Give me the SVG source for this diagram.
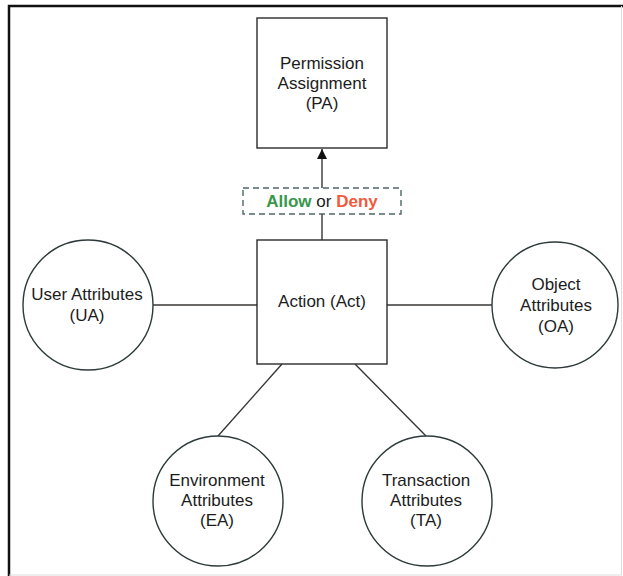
<svg xmlns="http://www.w3.org/2000/svg" width="623" height="576" viewBox="0 0 623 576">
<style>
.frame{fill:none;stroke:#111;stroke-width:2.5}
.box{fill:#fff;stroke:#2b2b2b;stroke-width:1.4}
.circ{fill:#fff;stroke:#2e3a3a;stroke-width:1.4}
.conn{stroke:#3a3636;stroke-width:1.4;fill:none}
.dash{fill:#fff;stroke:#4e6666;stroke-width:1.4;stroke-dasharray:6 4}
text{font-family:"Liberation Sans",Arial,sans-serif;font-size:17px;fill:#1c1c1c;text-anchor:middle}
.allow{fill:#37974a;font-weight:bold}
.deny{fill:#f25a3c;font-weight:bold}
</style>
<defs>
<marker id="arr" viewBox="0 0 10 10" refX="10" refY="5" markerWidth="11" markerHeight="10" orient="auto" markerUnits="userSpaceOnUse">
<path d="M0,0 L10,5 L0,10 z" fill="#111"/>
</marker>
</defs>
<rect x="0" y="0" width="623" height="576" fill="#fff"/>
<path class="frame" d="M9,576 L9,6 L623,6"/>
<path d="M621.5,6 L621.5,575 L9,575" fill="none" stroke="#ddd" stroke-width="1"/>
<g id="connectors">
<line class="conn" x1="322" y1="240" x2="322" y2="149" marker-end="url(#arr)"/>
<line class="conn" x1="153" y1="305" x2="257" y2="305"/>
<line class="conn" x1="387" y1="305" x2="492" y2="305"/>
<line class="conn" x1="282" y1="364" x2="218" y2="436"/>
<line class="conn" x1="355" y1="364" x2="426" y2="436"/>
</g>
<g id="label-allow-deny">
<rect class="dash" x="243" y="188" width="158" height="26"/>
<text x="322" y="207"><tspan class="allow">Allow</tspan> or <tspan class="deny">Deny</tspan></text>
</g>
<g id="PA">
<rect class="box" x="257" y="18" width="130" height="130"/>
<text x="322" y="69">Permission</text>
<text x="322" y="89">Assignment</text>
<text x="322" y="109">(PA)</text>
</g>
<g id="Act">
<rect class="box" x="257" y="240" width="130" height="124"/>
<text x="322" y="307">Action (Act)</text>
</g>
<g id="UA">
<circle class="circ" cx="88" cy="305" r="65"/>
<text x="87" y="300">User Attributes</text>
<text x="87" y="321">(UA)</text>
</g>
<g id="OA">
<circle class="circ" cx="555" cy="305" r="63"/>
<text x="556" y="290">Object</text>
<text x="556" y="311">Attributes</text>
<text x="556" y="332">(OA)</text>
</g>
<g id="EA">
<circle class="circ" cx="218" cy="501" r="65"/>
<text x="217" y="486">Environment</text>
<text x="217" y="506">Attributes</text>
<text x="217" y="526">(EA)</text>
</g>
<g id="TA">
<circle class="circ" cx="427" cy="501" r="65"/>
<text x="426" y="486">Transaction</text>
<text x="426" y="506">Attributes</text>
<text x="426" y="526">(TA)</text>
</g>
</svg>
